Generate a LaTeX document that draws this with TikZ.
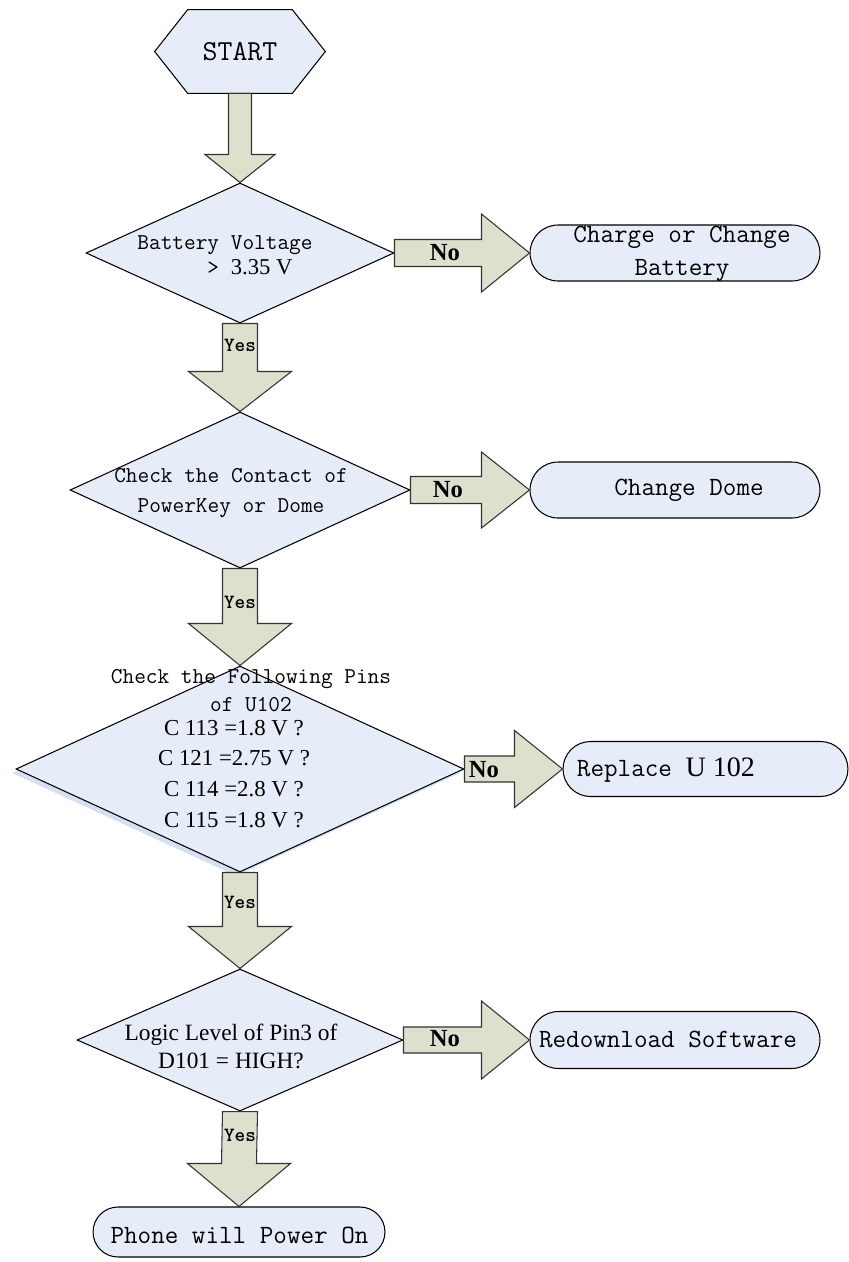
\documentclass[tikz,border=0pt]{standalone}
\usepackage{fontspec}
\setmainfont{Liberation Serif}
\usepackage{tikz}
\usetikzlibrary{shapes,calc,positioning}

\definecolor{boxblue}{RGB}{230,236,248}
\definecolor{shadowblue}{RGB}{214,224,244}
\definecolor{arrowkhaki}{RGB}{221,224,204}

% fat arrows: from, to, half shaft, half head, head length
\newcommand{\blockdown}[5]{%
  \draw[blockarrow] ($(#1)+(-#3,0)$) -- ($(#2)+(-#3,-#5)$) -- ($(#2)+(-#4,-#5)$) -- (#2)
    -- ($(#2)+(#4,-#5)$) -- ($(#2)+(#3,-#5)$) -- ($(#1)+(#3,0)$) -- cycle;}
\newcommand{\blockright}[5]{%
  \draw[blockarrow] ($(#1)+(0,-#3)$) -- ($(#2)+(-#5,-#3)$) -- ($(#2)+(-#5,-#4)$) -- (#2)
    -- ($(#2)+(-#5,#4)$) -- ($(#2)+(-#5,#3)$) -- ($(#1)+(0,#3)$) -- cycle;}

\begin{document}
\begin{tikzpicture}[x=0.02cm,y=-0.02cm,
                    decision/.style={diamond, draw, fill=boxblue, inner sep=0pt, line width=0.6pt},
                    terminal/.style={rounded rectangle, draw, fill=boxblue, inner sep=0pt, line width=0.6pt},
                    blockarrow/.style={draw=black!80, fill=arrowkhaki, line width=0.6pt},
                    monotxt/.style={font=\ttfamily\fontsize{12.9}{#1}\selectfont, inner sep=0pt, align=center},
                    monotxt/.default=16,
                    bigmono/.style={font=\ttfamily\fontsize{15}{#1}\selectfont, inner sep=0pt, align=center},
                    bigmono/.default=18.7,
                    romtxt/.style={font=\fontsize{13}{#1}\selectfont, inner sep=0pt, align=center},
                    romtxt/.default=17.6,
                    yeslabel/.style={font=\ttfamily\bfseries\fontsize{11.5}{11.5}\selectfont, inner sep=0pt},
                    nolabel/.style={font=\bfseries\fontsize{14}{14}\selectfont, inner sep=0pt},
                   ]

\useasboundingbox (0,0) rectangle (849,1262);

% start
\node[minimum width=3.4cm, minimum height=1.66cm] (start) at (240,51.5) {};
\draw[fill=boxblue, line width=0.6pt] (start.west) -- ($(start.north west)+(33,0)$) -- ($(start.north east)+(-33,0)$)
    -- (start.east) -- ($(start.south east)+(-33,0)$) -- ($(start.south west)+(33,0)$) -- cycle;
\node[font=\ttfamily\fontsize{16.5}{16.5}\selectfont] (starttxt) at (start) {START};

% decisions
\node[decision, minimum width=6.16cm, minimum height=2.8cm] (d1) at (240,253) {};
\node[decision, minimum width=6.8cm, minimum height=3.12cm] (d2) at (240,490) {};
\node[diamond, fill=shadowblue, inner sep=0pt, minimum width=8.96cm, minimum height=4.12cm] (d3shadow) at (236,773) {};
\node[decision, minimum width=8.96cm, minimum height=4.12cm] (d3) at (240,769) {};
\node[decision, minimum width=6.52cm, minimum height=2.84cm] (d4) at (240,1040) {};

% ends
\node[terminal, minimum width=5.8cm, minimum height=1.12cm] (t1) at (675,253) {};
\node[terminal, minimum width=5.8cm, minimum height=1.12cm] (t2) at (675,490) {};
\node[terminal, minimum width=5.7cm, minimum height=1.1cm] (t3) at (705.5,769) {};
\node[terminal, minimum width=5.8cm, minimum height=1.14cm] (t4) at (675,1040) {};
\node[terminal, minimum width=5.84cm, minimum height=1cm] (t5) at (239,1232) {};

% arrows
\blockdown{start.south}{d1.north}{11.5}{35}{28}
\blockdown{d1.south}{d2.north}{17.5}{51.5}{40}
\blockdown{d2.south}{d3.north}{17.5}{51.5}{42}
\blockdown{d3.south}{d4.north}{17.5}{51.5}{42}
\blockdown{d4.south}{t5.north}{17.5}{51.5}{43}
\blockright{d1.east}{t1.west}{13.5}{39}{48}
\blockright{d2.east}{t2.west}{13.5}{38}{48}
\blockright{d3.east}{t3.west}{13}{38.5}{48}
\blockright{d4.east}{t4.west}{13}{39}{48}

\node[yeslabel] (yes1) at (240,345) {Yes};
\node[yeslabel] (yes2) at (240,602) {Yes};
\node[yeslabel] (yes3) at (240,902) {Yes};
\node[yeslabel] (yes4) at (240,1135) {Yes};
\node[nolabel] (no1) at (445,253) {No};
\node[nolabel] (no2) at (448,490) {No};
\node[nolabel] (no3) at (484,770) {No};
\node[nolabel] (no4) at (445,1039) {No};

% texts
\node[monotxt=14.2, align=left] (d1txt) at (225,255) {Battery Voltage\\\phantom{Batter}> {\rmfamily 3.35 V}};
\node[monotxt=17] (d2txt) at (231,493) {Check the Contact of\\PowerKey or Dome};
\node[monotxt=15.9] (d3txta) at (251,691) {Check the Following Pins\\of U102};
\node[romtxt=17.6] (d3txtb) at (234,774) {C 113 =1.8 V ?\\C 121 =2.75 V ?\\C 114 =2.8 V ?\\C 115 =1.8 V ?};
\node[romtxt=15.9, font=\fontsize{13.3}{15.9}\selectfont] (d4txt) at (231,1046) {Logic Level of Pin3 of\\D101 = HIGH?};

\node[bigmono] (t1txt) at (682,253.5) {Charge or Change\\Battery};
\node[bigmono] (t2txt) at (689,490) {Change Dome};
\node[bigmono] (t3txt) at (666,770) {Replace {\rmfamily\fontsize{16}{16}\selectfont U 102}};
\node[bigmono] (t4txt) at (668,1039) {Redownload Software};
\node[bigmono] (t5txt) at (239.5,1235) {Phone will Power On};

\end{tikzpicture}
\end{document}
